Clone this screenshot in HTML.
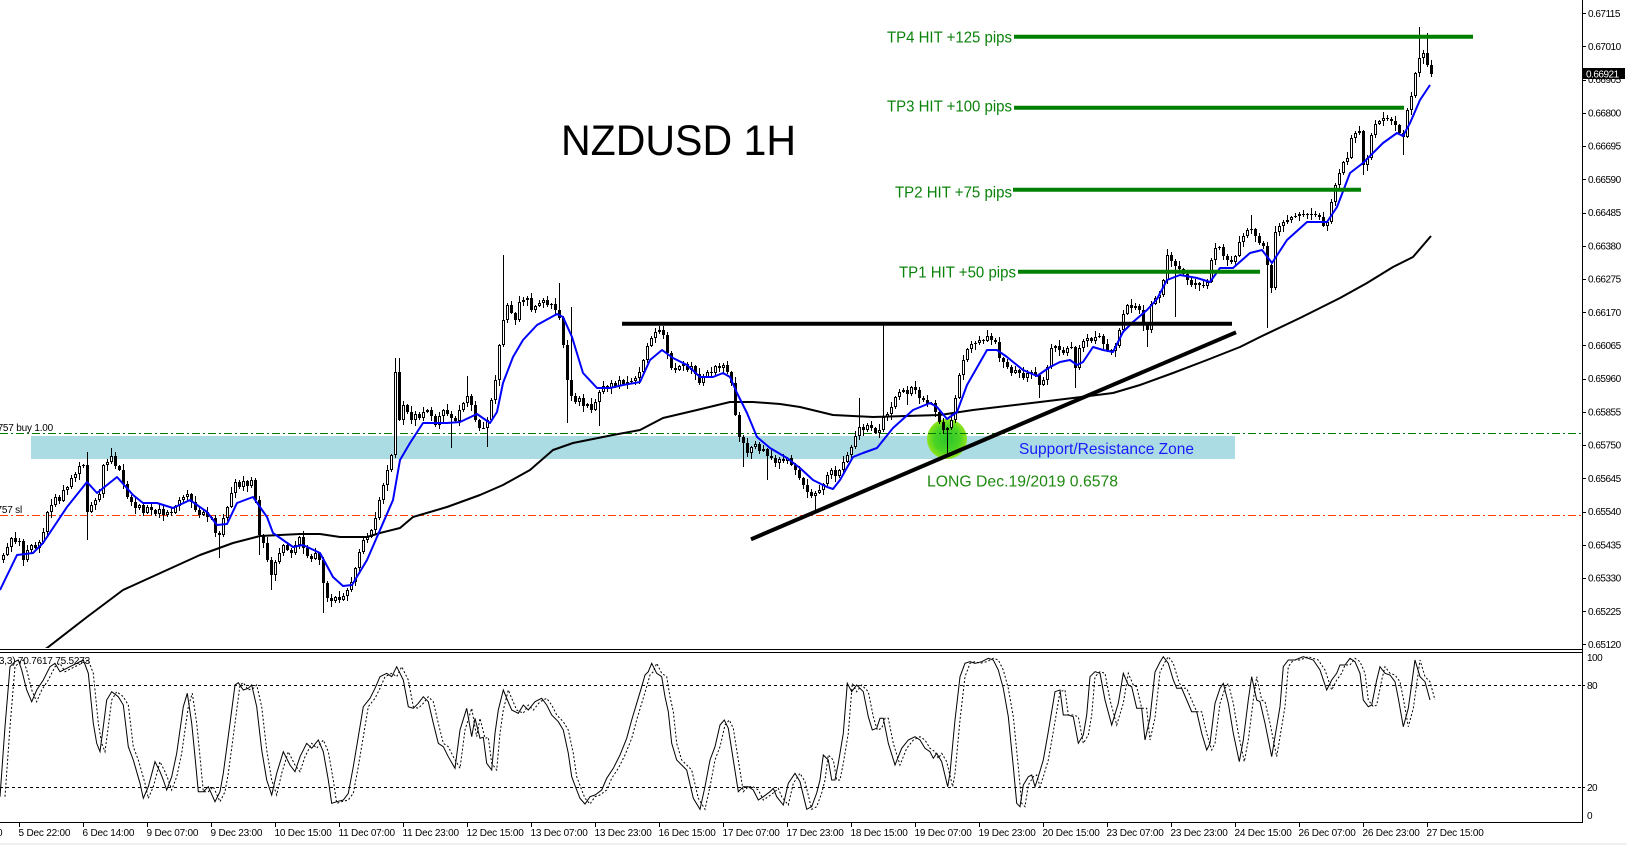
<!DOCTYPE html>
<html><head><meta charset="utf-8">
<style>
html,body{margin:0;padding:0;background:#fff;}
body{width:1627px;height:845px;overflow:hidden;}
svg{display:block;font-family:"Liberation Sans",Arial,sans-serif;}
.ax{font-size:10px;letter-spacing:-0.5px;fill:#000;}
.tx{font-size:10px;letter-spacing:-0.2px;fill:#000;}
</style></head><body>
<svg width="1627" height="845" viewBox="0 0 1627 845" xmlns="http://www.w3.org/2000/svg">
<defs>
<clipPath id="main"><rect x="0" y="0" width="1582" height="648"/></clipPath>
<clipPath id="ind"><rect x="0" y="653" width="1582" height="169"/></clipPath>
<radialGradient id="gc"><stop offset="0" stop-color="#2cc42c"/><stop offset="0.65" stop-color="#4cd424"/><stop offset="1" stop-color="#8ee41a"/></radialGradient>
<polyline id="stk" points="0,796.7 5,726.7 10,666.7 15,661.7 18.3,660 21.7,670 26.7,690 31.7,701.7 36.7,690 43.3,680 50,666.7 55,663.3 60,671.7 66.7,668.3 76.7,663.3 83.3,660 88.3,673.3 93.3,723.3 96.7,743.3 100,751.7 103.3,726.7 106.7,700 111.7,691.7 118.3,696.7 123.3,705 128.3,746.7 133.3,760 140,783.3 143.3,798.3 148.3,786.7 155,761.7 160,771.7 163.3,780 166.7,790 171.7,776.7 176.7,753.3 183.3,706.7 187.3,693.3 191.7,723.3 195,756.7 198.3,791.7 203.3,791.7 208.3,786.7 215,801.7 220,791.7 223.3,773.3 230,723.3 235,685 238.3,682.7 243.3,690 248.3,688.3 251.7,685 256.7,706.7 261.7,750 266.7,780 271.7,795 276.7,773.3 283.3,751.7 290,765 295,771.7 300,756.7 306.7,743.3 311.7,748.3 318.3,740 323.3,751.7 328.3,780 331.7,803.3 336.7,801.7 343.3,800 348.3,793.3 353.3,766.7 363.3,706.7 370,698.3 375,688.3 380,676.7 386.7,673.3 391.7,676.7 396.7,666.7 403.3,680 408.3,706.7 413.3,708.3 418.3,703.3 423.3,696.7 428.3,701.7 433.3,723.3 438.3,743.3 443.3,746.7 448.3,756.7 455,768.3 460,730 466.7,708.3 471.7,736.7 475,718.3 480,738.3 483.3,737.3 486.7,763.3 491.7,770 495,733.3 498.3,710 503.3,690 506.7,698.3 511.7,710 518.3,713.3 523.3,705 528.3,710 535,701.7 541.7,698.3 546.7,705 551.7,715 558.3,721.7 563.3,730 568.3,753.3 571.7,776.7 576.7,790 580,798.3 585,804 590,796.7 595,795 601.7,790 606.7,778.3 613.3,768.3 620,755 626.7,738.3 631.7,720 636.7,703.3 641.7,686.7 645,675 648.3,671.7 651.7,663.3 656.7,673.3 661.7,676.7 665,696.7 668.3,711.7 671.7,743.3 676.7,760 681.7,765 686.7,770 693.3,798.3 700,809.3 705,786.7 710,760 715,746.7 720,725 724.3,720 728.3,728.3 733.3,760 738.3,791.7 743.3,786.7 748.3,786.7 753.3,790 758.3,800 763.3,796.7 770,791.7 773.3,788.3 776.7,796.7 783.3,805 788.3,783.3 795,773.3 800,781.7 806.7,809.3 811.7,806.7 816.7,793 820,780 823.3,755 828.3,760 831.7,780 835,780 838.3,763.3 843.3,733.3 847.3,683.3 851.7,691.7 856.7,685 863.3,691.7 868.3,716.7 872.3,730 876.7,728.3 880,718.3 883.3,718.3 888.3,743.3 895,765 901.7,748.3 908.3,740 915,736.7 920,740 925,748.3 930,751.7 933.3,758.3 936.7,753.3 941.7,761.7 947.7,786.7 950,773.3 955,720 960,676.7 965,663.3 970,661.7 975,663.3 981.7,661.7 988.3,658.3 993.3,660 998.3,670 1003.3,688.3 1008.3,716.7 1013.3,766.7 1016.7,803.3 1020,806.7 1023.3,785 1028.3,776.7 1031.7,775 1035,786.7 1038.3,776.7 1043.3,760 1048.3,731.7 1055,691.7 1060,690 1063.3,715 1068.3,715 1073.3,716.7 1078.3,743.3 1083.3,735 1086.7,715 1090,676.7 1095,671.7 1100,673.3 1105,700 1111.7,725 1118.3,703.3 1123.3,673.3 1128.3,685 1131.7,686.7 1136.7,708.3 1141.7,708.3 1145,740 1150,718 1155,672 1160,662 1163.3,656.7 1168.3,663.3 1173.3,680 1176.7,688.3 1181.7,688.3 1186.7,700 1191.7,711.7 1196.7,711.7 1201.7,733.3 1206.7,750 1210,743.3 1215,703.3 1220,688.3 1223.3,683.3 1228.3,703.3 1233.3,733.3 1239.3,761.7 1243.3,740 1248.3,700 1251.7,676.7 1256.7,700 1260,701.7 1265,723.3 1271.7,756.7 1275,736.7 1280,706.7 1283.3,666.7 1288.3,660 1295,660 1303.3,656.7 1313.3,660 1320,670 1326.7,690 1331.7,680 1336.7,673.3 1340,665 1345,665 1350,658.3 1355,661.7 1360,673.3 1363.3,700 1368.3,706.7 1371.7,705 1376.7,680 1380,666.7 1385,673.3 1390,675 1395,681.7 1398.3,698.3 1403.3,726.7 1408.3,708.3 1415,660 1420,676.7 1425,681.7 1430,700"/>
</defs>
<rect width="1627" height="845" fill="#fff"/>
<rect x="0" y="843" width="1627" height="2" fill="#f0f0f0"/>

<g clip-path="url(#main)">
 <rect x="31" y="436" width="1204" height="23" fill="#abdce4"/>
 <circle cx="947" cy="439" r="20" fill="url(#gc)"/>
 <line x1="0" y1="433.5" x2="1582" y2="433.5" stroke="#007a00" stroke-width="1" stroke-dasharray="8,3,2,3"/>
 <line x1="0" y1="515.5" x2="1582" y2="515.5" stroke="#ff4000" stroke-width="1" stroke-dasharray="8,3,2,3"/>
 <g shape-rendering="crispEdges">
 <path fill="none" stroke="#000" stroke-width="1" d="M3.5 553V563M7.5 543V556M11.5 537V552M15.5 532V544M19.5 538V546M23.5 539V566M27.5 545V562M31.5 544V553M35.5 542V549M39.5 540V553M43.5 528V544M47.5 511V536M51.5 499V518M55.5 494V507M59.5 495V504M63.5 485V502M67.5 486V495M71.5 475V489M75.5 472V482M79.5 462V480M83.5 464V468M87.5 452V540M91.5 502V513M95.5 498V510M99.5 489V502M103.5 464V498M107.5 459V471M111.5 448V464M115.5 452V469M119.5 465V471M123.5 464V489M127.5 481V499M131.5 495V506M135.5 497V514M139.5 504V510M143.5 502V516M147.5 505V514M151.5 503V515M155.5 509V516M159.5 503V518M163.5 506V521M167.5 510V517M171.5 507V516M175.5 505V514M179.5 497V511M183.5 495V502M187.5 490V501M191.5 493V508M195.5 496V512M199.5 507V518M203.5 510V516M207.5 507V522M211.5 516V520M215.5 515V537M219.5 531V558M223.5 514V537M227.5 506V521M231.5 487V508M235.5 479V498M239.5 480V489M243.5 476V491M247.5 480V492M251.5 477V488M255.5 478V503M259.5 496V555M263.5 534V548M267.5 537V562M271.5 557V590M275.5 560V581M279.5 548V564M283.5 544V556M287.5 542V551M291.5 548V558M295.5 541V555M299.5 536V549M303.5 531V554M307.5 545V558M311.5 554V562M315.5 548V560M319.5 552V565M323.5 557V613M327.5 581V602M331.5 594V607M335.5 596V603M339.5 591V603M343.5 593V601M347.5 588V601M351.5 577V592M355.5 567V586M359.5 549V574M363.5 538V554M367.5 533V543M371.5 529V538M375.5 512V535M379.5 497V520M383.5 483V504M387.5 465V491M391.5 454V472M395.5 358V458M399.5 358V421M403.5 401V425M407.5 404V414M411.5 406V424M415.5 411V426M419.5 412V420M423.5 407V421M427.5 409V413M431.5 407V421M435.5 414V427M439.5 412V429M443.5 409V422M447.5 404V416M451.5 411V448M455.5 416V422M459.5 405V426M463.5 402V412M467.5 376V407M471.5 394V411M475.5 401V422M479.5 419V431M483.5 422V429M487.5 417V447M491.5 398V422M495.5 375V404M499.5 344V386M503.5 255V347M507.5 303V323M511.5 301V314M515.5 312V325M519.5 296V322M523.5 297V306M527.5 296V306M531.5 293V312M535.5 305V313M539.5 300V307M543.5 298V308M547.5 296V307M551.5 303V309M555.5 298V316M559.5 283V320M563.5 316V348M567.5 340V423M571.5 307V401M575.5 393V404M579.5 396V406M583.5 394V412M587.5 403V408M591.5 398V413M595.5 399V411M599.5 390V426M603.5 381V394M607.5 385V392M611.5 380V394M615.5 381V388M619.5 376V389M623.5 379V385M627.5 376V389M631.5 378V384M635.5 376V385M639.5 367V384M643.5 359V374M647.5 343V363M651.5 336V347M655.5 328V343M659.5 326V334M663.5 326V339M667.5 332V359M671.5 351V370M675.5 363V373M679.5 365V371M683.5 361V371M687.5 362V372M691.5 362V374M695.5 365V380M699.5 368V385M703.5 374V386M707.5 370V378M711.5 367V378M715.5 365V375M719.5 363V372M723.5 363V374M727.5 361V374M731.5 371V386M735.5 377V416M739.5 412V442M743.5 435V467M747.5 438V457M751.5 446V459M755.5 441V449M759.5 442V454M763.5 445V452M767.5 448V480M771.5 450V460M775.5 455V467M779.5 457V469M783.5 454V463M787.5 457V464M791.5 455V466M795.5 463V475M799.5 466V480M803.5 477V489M807.5 479V498M811.5 489V498M815.5 491V512M819.5 485V494M823.5 483V495M827.5 472V486M831.5 468V479M835.5 466V482M839.5 469V478M843.5 456V473M847.5 452V463M851.5 445V460M855.5 431V449M859.5 398V440M863.5 424V436M867.5 423V432M871.5 421V431M875.5 427V434M879.5 424V438M883.5 324V432M887.5 412V421M891.5 402V420M895.5 396V409M899.5 389V400M903.5 388V393M907.5 386V405M911.5 386V396M915.5 381V394M919.5 387V404M923.5 396V402M927.5 395V407M931.5 402V405M935.5 400V417M939.5 410V424M943.5 418V434M947.5 427V455M951.5 414V430M955.5 395V423M959.5 373V399M963.5 355V380M967.5 348V362M971.5 341V353M975.5 341V350M979.5 336V345M983.5 339V344M987.5 330V342M991.5 333V345M995.5 338V344M999.5 337V362M1003.5 357V368M1007.5 359V369M1011.5 365V376M1015.5 366V374M1019.5 369V378M1023.5 367V380M1027.5 370V382M1031.5 370V379M1035.5 367V377M1039.5 374V398M1043.5 377V386M1047.5 365V385M1051.5 344V369M1055.5 345V352M1059.5 340V356M1063.5 347V355M1067.5 346V356M1071.5 342V349M1075.5 346V388M1079.5 345V370M1083.5 339V352M1087.5 334V347M1091.5 337V343M1095.5 331V344M1099.5 333V338M1103.5 334V349M1107.5 339V352M1111.5 349V355M1115.5 343V357M1119.5 328V348M1123.5 310V333M1127.5 304V315M1131.5 299V313M1135.5 303V310M1139.5 304V314M1143.5 305V331M1147.5 324V347M1151.5 301V333M1155.5 296V305M1159.5 291V303M1163.5 279V297M1167.5 249V284M1171.5 252V267M1175.5 259V317M1179.5 261V272M1183.5 268V275M1187.5 271V285M1191.5 278V287M1195.5 279V289M1199.5 282V291M1203.5 279V288M1207.5 279V289M1211.5 258V283M1215.5 243V265M1219.5 246V250M1223.5 244V260M1227.5 254V266M1231.5 256V264M1235.5 255V265M1239.5 236V257M1243.5 233V247M1247.5 228V238M1251.5 215V234M1255.5 228V242M1259.5 233V245M1263.5 241V249M1267.5 242V328M1271.5 264V293M1275.5 226V290M1279.5 223V236M1283.5 220V232M1287.5 215V224M1291.5 216V223M1295.5 213V218M1299.5 212V221M1303.5 210V217M1307.5 213V219M1311.5 208V220M1315.5 211V217M1319.5 213V220M1323.5 212V227M1327.5 221V231M1331.5 199V224M1335.5 183V206M1339.5 169V191M1343.5 161V175M1347.5 152V165M1351.5 135V159M1355.5 131V143M1359.5 126V135M1363.5 130V175M1367.5 155V171M1371.5 133V160M1375.5 120V138M1379.5 120V125M1383.5 112V126M1387.5 115V121M1391.5 117V125M1395.5 116V131M1399.5 124V135M1403.5 130V155M1407.5 108V138M1411.5 92V115M1415.5 72V98M1419.5 27V77M1423.5 50V64M1427.5 33V67M1431.5 60V77"/>
 <path fill="#000" d="M14 538h3v4h-3zM18 541h3v1h-3zM22 541h3v19h-3zM34 545h3v3h-3zM58 497h3v4h-3zM82 465h3v1h-3zM86 465h3v47h-3zM114 456h3v10h-3zM118 466h3v4h-3zM122 470h3v14h-3zM126 484h3v13h-3zM130 497h3v5h-3zM134 502h3v6h-3zM142 505h3v8h-3zM150 507h3v3h-3zM154 510h3v4h-3zM162 509h3v6h-3zM170 512h3v1h-3zM190 494h3v8h-3zM194 502h3v8h-3zM198 510h3v5h-3zM206 512h3v5h-3zM210 517h3v1h-3zM214 518h3v15h-3zM218 533h3v2h-3zM238 482h3v5h-3zM246 481h3v5h-3zM254 480h3v20h-3zM258 500h3v35h-3zM262 535h3v8h-3zM266 543h3v17h-3zM270 560h3v15h-3zM286 545h3v5h-3zM290 550h3v3h-3zM302 537h3v11h-3zM306 548h3v8h-3zM310 556h3v3h-3zM318 553h3v7h-3zM322 560h3v23h-3zM326 583h3v15h-3zM330 598h3v3h-3zM338 597h3v3h-3zM398 372h3v48h-3zM406 405h3v7h-3zM410 412h3v8h-3zM418 414h3v4h-3zM430 410h3v6h-3zM434 416h3v9h-3zM446 410h3v4h-3zM450 414h3v4h-3zM454 418h3v3h-3zM470 396h3v9h-3zM474 405h3v15h-3zM478 420h3v8h-3zM482 428h3v1h-3zM510 305h3v8h-3zM514 313h3v7h-3zM530 298h3v12h-3zM546 300h3v5h-3zM550 304h3v1h-3zM554 304h3v6h-3zM558 310h3v8h-3zM562 318h3v27h-3zM566 345h3v35h-3zM570 380h3v16h-3zM574 396h3v6h-3zM582 398h3v8h-3zM590 404h3v6h-3zM606 386h3v2h-3zM614 383h3v3h-3zM622 380h3v4h-3zM630 381h3v1h-3zM662 330h3v5h-3zM666 335h3v18h-3zM670 353h3v15h-3zM674 368h3v2h-3zM686 364h3v6h-3zM694 366h3v8h-3zM698 374h3v9h-3zM710 372h3v1h-3zM718 366h3v2h-3zM726 365h3v7h-3zM730 372h3v11h-3zM734 383h3v32h-3zM738 415h3v22h-3zM742 437h3v6h-3zM746 443h3v10h-3zM758 444h3v7h-3zM766 449h3v7h-3zM770 456h3v2h-3zM774 458h3v5h-3zM782 459h3v2h-3zM790 458h3v7h-3zM794 465h3v5h-3zM798 470h3v8h-3zM802 478h3v7h-3zM806 485h3v7h-3zM810 492h3v4h-3zM834 470h3v6h-3zM862 427h3v3h-3zM870 425h3v3h-3zM874 428h3v5h-3zM906 390h3v4h-3zM914 387h3v3h-3zM918 390h3v8h-3zM922 398h3v2h-3zM926 400h3v4h-3zM930 403h3v1h-3zM934 403h3v9h-3zM938 412h3v10h-3zM942 422h3v8h-3zM974 343h3v1h-3zM982 340h3v1h-3zM990 336h3v4h-3zM994 340h3v2h-3zM998 342h3v16h-3zM1002 358h3v4h-3zM1006 362h3v5h-3zM1010 367h3v6h-3zM1018 370h3v3h-3zM1022 373h3v5h-3zM1030 372h3v1h-3zM1034 372h3v3h-3zM1038 375h3v10h-3zM1058 346h3v4h-3zM1062 350h3v3h-3zM1070 347h3v1h-3zM1074 347h3v21h-3zM1090 338h3v3h-3zM1098 336h3v1h-3zM1102 336h3v8h-3zM1106 344h3v6h-3zM1110 350h3v1h-3zM1130 305h3v3h-3zM1138 306h3v4h-3zM1142 310h3v15h-3zM1146 325h3v5h-3zM1170 255h3v6h-3zM1174 261h3v5h-3zM1178 266h3v3h-3zM1182 269h3v5h-3zM1186 274h3v6h-3zM1190 280h3v5h-3zM1198 283h3v2h-3zM1202 285h3v1h-3zM1218 247h3v1h-3zM1222 247h3v9h-3zM1226 256h3v4h-3zM1230 260h3v2h-3zM1250 229h3v1h-3zM1254 229h3v7h-3zM1258 236h3v7h-3zM1262 243h3v3h-3zM1266 246h3v19h-3zM1270 265h3v23h-3zM1294 216h3v1h-3zM1302 214h3v1h-3zM1306 214h3v1h-3zM1310 214h3v1h-3zM1314 214h3v1h-3zM1318 215h3v2h-3zM1322 217h3v9h-3zM1362 131h3v34h-3zM1386 118h3v1h-3zM1390 119h3v2h-3zM1394 121h3v4h-3zM1398 125h3v8h-3zM1402 133h3v4h-3zM1426 53h3v12h-3zM1430 65h3v9h-3z"/>
 <path fill="#fff" stroke="#000" stroke-width="1" d="M2.5 555.5h2v4h-2zM6.5 547.5h2v7h-2zM10.5 538.5h2v8h-2zM26.5 550.5h2v9h-2zM30.5 545.5h2v4h-2zM38.5 542.5h2v5h-2zM42.5 532.5h2v9h-2zM46.5 512.5h2v19h-2zM50.5 505.5h2v6h-2zM54.5 497.5h2v7h-2zM62.5 490.5h2v10h-2zM66.5 487.5h2v2h-2zM70.5 478.5h2v8h-2zM74.5 474.5h2v3h-2zM78.5 466.5h2v7h-2zM90.5 505.5h2v6h-2zM94.5 500.5h2v4h-2zM98.5 494.5h2v5h-2zM102.5 465.5h2v28h-2zM106.5 462.5h2v2h-2zM110.5 456.5h2v5h-2zM138.5 505.5h2v2h-2zM146.5 507.5h2v5h-2zM158.5 509.5h2v4h-2zM166.5 512.5h2v2h-2zM174.5 506.5h2v6h-2zM178.5 500.5h2v5h-2zM182.5 497.5h2v2h-2zM186.5 494.5h2v2h-2zM202.5 512.5h2v2h-2zM222.5 518.5h2v16h-2zM226.5 507.5h2v10h-2zM230.5 493.5h2v13h-2zM234.5 482.5h2v10h-2zM242.5 481.5h2v5h-2zM250.5 480.5h2v5h-2zM274.5 562.5h2v12h-2zM278.5 553.5h2v8h-2zM282.5 545.5h2v7h-2zM294.5 545.5h2v7h-2zM298.5 537.5h2v7h-2zM314.5 553.5h2v5h-2zM334.5 597.5h2v3h-2zM342.5 596.5h2v3h-2zM346.5 590.5h2v5h-2zM350.5 582.5h2v7h-2zM354.5 568.5h2v13h-2zM358.5 552.5h2v15h-2zM362.5 540.5h2v11h-2zM366.5 537.5h2v2h-2zM370.5 530.5h2v6h-2zM374.5 518.5h2v11h-2zM378.5 500.5h2v17h-2zM382.5 485.5h2v14h-2zM386.5 470.5h2v14h-2zM390.5 455.5h2v14h-2zM394.5 372.5h2v82h-2zM402.5 405.5h2v14h-2zM414.5 414.5h2v5h-2zM422.5 412.5h2v5h-2zM426.5 410.5h2v1h-2zM438.5 416.5h2v8h-2zM442.5 410.5h2v5h-2zM458.5 410.5h2v10h-2zM462.5 403.5h2v6h-2zM466.5 396.5h2v6h-2zM486.5 420.5h2v7h-2zM490.5 400.5h2v19h-2zM494.5 380.5h2v19h-2zM498.5 345.5h2v34h-2zM502.5 320.5h2v24h-2zM506.5 305.5h2v14h-2zM518.5 302.5h2v17h-2zM522.5 300.5h2v1h-2zM526.5 298.5h2v1h-2zM534.5 306.5h2v3h-2zM538.5 303.5h2v2h-2zM542.5 300.5h2v2h-2zM578.5 398.5h2v3h-2zM586.5 404.5h2v1h-2zM594.5 402.5h2v7h-2zM598.5 392.5h2v9h-2zM602.5 386.5h2v5h-2zM610.5 383.5h2v4h-2zM618.5 380.5h2v5h-2zM626.5 382.5h2v1h-2zM634.5 378.5h2v2h-2zM638.5 372.5h2v5h-2zM642.5 360.5h2v11h-2zM646.5 346.5h2v13h-2zM650.5 338.5h2v7h-2zM654.5 332.5h2v5h-2zM658.5 330.5h2v1h-2zM678.5 366.5h2v3h-2zM682.5 364.5h2v1h-2zM690.5 366.5h2v3h-2zM702.5 377.5h2v5h-2zM706.5 372.5h2v4h-2zM714.5 366.5h2v6h-2zM722.5 365.5h2v2h-2zM750.5 447.5h2v5h-2zM754.5 444.5h2v2h-2zM762.5 449.5h2v1h-2zM778.5 459.5h2v3h-2zM786.5 458.5h2v2h-2zM814.5 493.5h2v2h-2zM818.5 490.5h2v2h-2zM822.5 484.5h2v5h-2zM826.5 475.5h2v8h-2zM830.5 470.5h2v4h-2zM838.5 470.5h2v5h-2zM842.5 462.5h2v7h-2zM846.5 455.5h2v6h-2zM850.5 447.5h2v7h-2zM854.5 436.5h2v10h-2zM858.5 427.5h2v8h-2zM866.5 425.5h2v4h-2zM878.5 430.5h2v2h-2zM882.5 417.5h2v12h-2zM886.5 414.5h2v2h-2zM890.5 407.5h2v6h-2zM894.5 397.5h2v9h-2zM898.5 392.5h2v4h-2zM902.5 390.5h2v1h-2zM910.5 387.5h2v6h-2zM946.5 428.5h2v1h-2zM950.5 420.5h2v7h-2zM954.5 398.5h2v21h-2zM958.5 375.5h2v22h-2zM962.5 360.5h2v14h-2zM966.5 349.5h2v10h-2zM970.5 344.5h2v4h-2zM978.5 340.5h2v2h-2zM986.5 336.5h2v4h-2zM1014.5 370.5h2v2h-2zM1026.5 373.5h2v4h-2zM1042.5 380.5h2v4h-2zM1046.5 367.5h2v12h-2zM1050.5 348.5h2v18h-2zM1054.5 346.5h2v1h-2zM1066.5 348.5h2v4h-2zM1078.5 348.5h2v19h-2zM1082.5 341.5h2v6h-2zM1086.5 338.5h2v2h-2zM1094.5 337.5h2v3h-2zM1114.5 346.5h2v4h-2zM1118.5 330.5h2v15h-2zM1122.5 314.5h2v15h-2zM1126.5 305.5h2v8h-2zM1134.5 306.5h2v1h-2zM1150.5 304.5h2v25h-2zM1154.5 298.5h2v5h-2zM1158.5 295.5h2v2h-2zM1162.5 280.5h2v14h-2zM1166.5 255.5h2v24h-2zM1194.5 283.5h2v1h-2zM1206.5 282.5h2v3h-2zM1210.5 260.5h2v21h-2zM1214.5 248.5h2v11h-2zM1234.5 256.5h2v5h-2zM1238.5 242.5h2v13h-2zM1242.5 236.5h2v5h-2zM1246.5 230.5h2v5h-2zM1274.5 232.5h2v55h-2zM1278.5 226.5h2v5h-2zM1282.5 222.5h2v3h-2zM1286.5 220.5h2v1h-2zM1290.5 217.5h2v2h-2zM1298.5 214.5h2v1h-2zM1326.5 222.5h2v3h-2zM1330.5 202.5h2v19h-2zM1334.5 185.5h2v16h-2zM1338.5 173.5h2v11h-2zM1342.5 162.5h2v10h-2zM1346.5 158.5h2v3h-2zM1350.5 138.5h2v19h-2zM1354.5 133.5h2v4h-2zM1358.5 131.5h2v1h-2zM1366.5 158.5h2v6h-2zM1370.5 135.5h2v22h-2zM1374.5 124.5h2v10h-2zM1378.5 121.5h2v2h-2zM1382.5 118.5h2v2h-2zM1406.5 110.5h2v26h-2zM1410.5 96.5h2v13h-2zM1414.5 73.5h2v22h-2zM1418.5 58.5h2v14h-2zM1422.5 53.5h2v4h-2z"/>
 </g>
 <polyline fill="none" stroke="#000" stroke-width="2" stroke-linejoin="round" points="40,652 47,648 87,617 123,590 167,570 200,555 233,543 260,536 300,534 320,534 340,537 367,537 380,533 400,528 413,517 447,507 480,495 503,485 530,470 553,450 573,443 613,435 640,430 663,418 697,410 730,402 753,402 780,404 800,407 833,415 873,417 940,415 973,410 1040,402 1073,398 1113,393 1140,385 1173,373 1207,360 1240,347 1260,337 1300,318 1340,298 1367,283 1393,267 1413,257 1431,236"/>
 <polyline fill="none" stroke="#0000ff" stroke-width="2" stroke-linejoin="round" points="0,590 17,555 33,553 43,543 67,507 87,482 97,493 117,477 133,495 143,503 157,503 173,508 190,500 207,512 217,525 227,524 237,503 253,497 267,517 273,533 293,547 303,545 320,553 333,577 343,586 352,585 367,560 380,530 393,500 400,460 410,443 423,423 433,423 447,423 460,422 477,414 490,423 497,412 503,383 513,357 523,340 537,325 557,314 563,317 572,337 583,373 597,388 610,388 623,385 640,382 650,360 662,350 673,358 687,365 700,377 713,377 723,373 730,377 737,393 747,413 757,437 770,448 787,458 800,468 813,480 827,487 833,489 840,480 853,457 863,453 877,448 893,428 913,410 930,403 937,407 947,419 957,412 967,385 987,350 997,350 1007,357 1023,370 1037,376 1050,367 1060,362 1070,360 1077,365 1083,362 1093,347 1103,350 1113,352 1123,332 1133,322 1147,310 1157,299 1167,280 1180,275 1197,278 1210,282 1220,268 1233,268 1250,253 1262,250 1272,263 1287,240 1307,222 1327,222 1337,207 1350,173 1363,163 1373,153 1383,143 1397,133 1403,136 1410,123 1420,100 1430,85"/>
 <line x1="622" y1="323.7" x2="1232" y2="323.7" stroke="#000" stroke-width="4"/>
 <line x1="751" y1="539.3" x2="1236" y2="332.3" stroke="#000" stroke-width="4"/>
 <line x1="1014" y1="36.7" x2="1473" y2="36.7" stroke="#008000" stroke-width="4"/>
 <line x1="1014" y1="107.7" x2="1404" y2="107.7" stroke="#008000" stroke-width="4"/>
 <line x1="1013" y1="189.7" x2="1361" y2="189.7" stroke="#008000" stroke-width="4"/>
 <line x1="1018" y1="271.7" x2="1260" y2="271.7" stroke="#008000" stroke-width="4"/>
 <text x="561" y="155" font-size="43" fill="#000" textLength="235" lengthAdjust="spacingAndGlyphs">NZDUSD 1H</text>
 <text x="887" y="42.7" font-size="16" fill="#0a820a" textLength="125" lengthAdjust="spacingAndGlyphs">TP4 HIT +125 pips</text>
 <text x="887" y="111.7" font-size="16" fill="#0a820a" textLength="125" lengthAdjust="spacingAndGlyphs">TP3 HIT +100 pips</text>
 <text x="895" y="197.3" font-size="16" fill="#0a820a" textLength="117" lengthAdjust="spacingAndGlyphs">TP2 HIT +75 pips</text>
 <text x="899" y="277.7" font-size="16" fill="#0a820a" textLength="117" lengthAdjust="spacingAndGlyphs">TP1 HIT +50 pips</text>
 <text x="1019" y="454" font-size="16" fill="#1a1aff" textLength="175" lengthAdjust="spacingAndGlyphs">Support/Resistance Zone</text>
 <text x="927" y="486.7" font-size="16" fill="#1e8a10" textLength="191" lengthAdjust="spacingAndGlyphs">LONG Dec.19/2019 0.6578</text>
 <text x="53" y="431" class="tx" text-anchor="end">757 buy 1.00</text>
 <text x="22" y="513" class="tx" text-anchor="end">757 sl</text>
</g>

<line x1="0" y1="649.5" x2="1582" y2="649.5" stroke="#000"/>
<line x1="0" y1="652.5" x2="1582" y2="652.5" stroke="#000"/>
<line x1="0" y1="822.5" x2="1583" y2="822.5" stroke="#000"/>
<line x1="1582.5" y1="0" x2="1582.5" y2="823" stroke="#000"/>

<g clip-path="url(#ind)">
 <line x1="0" y1="685.5" x2="1582" y2="685.5" stroke="#000" stroke-dasharray="3,3"/>
 <line x1="0" y1="787.5" x2="1582" y2="787.5" stroke="#000" stroke-dasharray="3,3"/>
 <use href="#stk" transform="translate(5,0)" fill="none" stroke="#000" stroke-width="1" stroke-dasharray="2,2"/>
 <use href="#stk" fill="none" stroke="#000" stroke-width="1"/>
 <text x="90" y="664" class="tx" text-anchor="end">Stoch(8,3,3) 70.7617 75.5273</text>
</g>
<text x="1587" y="661" class="ax">100</text>
<text x="1587" y="689" class="ax">80</text>
<text x="1587" y="791" class="ax">20</text>
<text x="1587" y="819" class="ax">0</text>
<line x1="1582" y1="685.5" x2="1585" y2="685.5" stroke="#000"/>
<line x1="1582" y1="787.5" x2="1585" y2="787.5" stroke="#000"/>

<g stroke="#000" stroke-width="1">
<line x1="1582" y1="13.5" x2="1586" y2="13.5"/><line x1="1582" y1="46.5" x2="1586" y2="46.5"/><line x1="1582" y1="80.5" x2="1586" y2="80.5"/><line x1="1582" y1="113.5" x2="1586" y2="113.5"/><line x1="1582" y1="146.5" x2="1586" y2="146.5"/><line x1="1582" y1="179.5" x2="1586" y2="179.5"/><line x1="1582" y1="213.5" x2="1586" y2="213.5"/><line x1="1582" y1="246.5" x2="1586" y2="246.5"/><line x1="1582" y1="279.5" x2="1586" y2="279.5"/><line x1="1582" y1="312.5" x2="1586" y2="312.5"/><line x1="1582" y1="345.5" x2="1586" y2="345.5"/><line x1="1582" y1="379.5" x2="1586" y2="379.5"/><line x1="1582" y1="412.5" x2="1586" y2="412.5"/><line x1="1582" y1="445.5" x2="1586" y2="445.5"/><line x1="1582" y1="478.5" x2="1586" y2="478.5"/><line x1="1582" y1="512.5" x2="1586" y2="512.5"/><line x1="1582" y1="545.5" x2="1586" y2="545.5"/><line x1="1582" y1="578.5" x2="1586" y2="578.5"/><line x1="1582" y1="611.5" x2="1586" y2="611.5"/><line x1="1582" y1="644.5" x2="1586" y2="644.5"/>
</g>
<g class="ax">
<text x="1588" y="16.8" class="ax">0.67115</text>
<text x="1588" y="50" class="ax">0.67010</text>
<text x="1588" y="83.2" class="ax">0.66905</text>
<text x="1588" y="116.5" class="ax">0.66800</text>
<text x="1588" y="149.7" class="ax">0.66695</text>
<text x="1588" y="182.9" class="ax">0.66590</text>
<text x="1588" y="216.1" class="ax">0.66485</text>
<text x="1588" y="249.3" class="ax">0.66380</text>
<text x="1588" y="282.6" class="ax">0.66275</text>
<text x="1588" y="315.8" class="ax">0.66170</text>
<text x="1588" y="349" class="ax">0.66065</text>
<text x="1588" y="382.2" class="ax">0.65960</text>
<text x="1588" y="415.4" class="ax">0.65855</text>
<text x="1588" y="448.7" class="ax">0.65750</text>
<text x="1588" y="481.9" class="ax">0.65645</text>
<text x="1588" y="515.1" class="ax">0.65540</text>
<text x="1588" y="548.3" class="ax">0.65435</text>
<text x="1588" y="581.5" class="ax">0.65330</text>
<text x="1588" y="614.8" class="ax">0.65225</text>
<text x="1588" y="648" class="ax">0.65120</text>
</g>
<rect x="1583" y="68" width="42" height="11" fill="#000"/>
<text x="1586" y="77.5" font-size="10" letter-spacing="-0.5" fill="#fff">0.66921</text>

<g stroke="#000" stroke-width="1">
<line x1="19.5" y1="823" x2="19.5" y2="827"/><line x1="83.5" y1="823" x2="83.5" y2="827"/><line x1="147.5" y1="823" x2="147.5" y2="827"/><line x1="211.5" y1="823" x2="211.5" y2="827"/><line x1="275.5" y1="823" x2="275.5" y2="827"/><line x1="339.5" y1="823" x2="339.5" y2="827"/><line x1="403.5" y1="823" x2="403.5" y2="827"/><line x1="467.5" y1="823" x2="467.5" y2="827"/><line x1="531.5" y1="823" x2="531.5" y2="827"/><line x1="595.5" y1="823" x2="595.5" y2="827"/><line x1="659.5" y1="823" x2="659.5" y2="827"/><line x1="723.5" y1="823" x2="723.5" y2="827"/><line x1="787.5" y1="823" x2="787.5" y2="827"/><line x1="851.5" y1="823" x2="851.5" y2="827"/><line x1="915.5" y1="823" x2="915.5" y2="827"/><line x1="979.5" y1="823" x2="979.5" y2="827"/><line x1="1043.5" y1="823" x2="1043.5" y2="827"/><line x1="1107.5" y1="823" x2="1107.5" y2="827"/><line x1="1171.5" y1="823" x2="1171.5" y2="827"/><line x1="1235.5" y1="823" x2="1235.5" y2="827"/><line x1="1299.5" y1="823" x2="1299.5" y2="827"/><line x1="1363.5" y1="823" x2="1363.5" y2="827"/><line x1="1427.5" y1="823" x2="1427.5" y2="827"/>
</g>
<text x="-3" y="836" class="tx">0</text>
<text x="18.5" y="836" class="tx">5 Dec 22:00</text>
<text x="82.5" y="836" class="tx">6 Dec 14:00</text>
<text x="146.5" y="836" class="tx">9 Dec 07:00</text>
<text x="210.5" y="836" class="tx">9 Dec 23:00</text>
<text x="274.5" y="836" class="tx">10 Dec 15:00</text>
<text x="338.5" y="836" class="tx">11 Dec 07:00</text>
<text x="402.5" y="836" class="tx">11 Dec 23:00</text>
<text x="466.5" y="836" class="tx">12 Dec 15:00</text>
<text x="530.5" y="836" class="tx">13 Dec 07:00</text>
<text x="594.5" y="836" class="tx">13 Dec 23:00</text>
<text x="658.5" y="836" class="tx">16 Dec 15:00</text>
<text x="722.5" y="836" class="tx">17 Dec 07:00</text>
<text x="786.5" y="836" class="tx">17 Dec 23:00</text>
<text x="850.5" y="836" class="tx">18 Dec 15:00</text>
<text x="914.5" y="836" class="tx">19 Dec 07:00</text>
<text x="978.5" y="836" class="tx">19 Dec 23:00</text>
<text x="1042.5" y="836" class="tx">20 Dec 15:00</text>
<text x="1106.5" y="836" class="tx">23 Dec 07:00</text>
<text x="1170.5" y="836" class="tx">23 Dec 23:00</text>
<text x="1234.5" y="836" class="tx">24 Dec 15:00</text>
<text x="1298.5" y="836" class="tx">26 Dec 07:00</text>
<text x="1362.5" y="836" class="tx">26 Dec 23:00</text>
<text x="1426.5" y="836" class="tx">27 Dec 15:00</text>
</svg>
</body></html>
